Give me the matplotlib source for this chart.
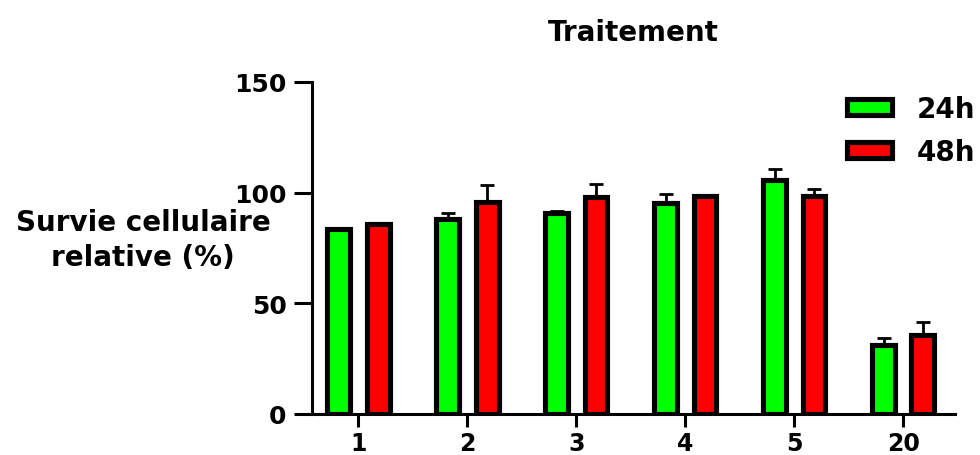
import numpy as np
import matplotlib.pyplot as plt

plt.rcParams['font.family'] = ['DejaVu Sans']
plt.rcParams['font.weight'] = 'bold'

# data
doses = ["1", "2", "3", "4", "5", "20"]
survie_24h = [83.5, 88, 91, 95.5, 105.5, 31]
err_24h = [0.3, 3, 0.6, 4, 5, 3.5]
survie_48h = [86, 96, 98, 98.7, 98.5, 35.5]
err_48h = [0.5, 7.5, 6, 0.3, 3, 6]


def plot_bars(ax):
    x = np.arange(len(doses))
    w = 0.21
    off = 0.18
    ax.bar(x - off, survie_24h, w, color="#00ff00", edgecolor="black",
           linewidth=3.7, label="24h", zorder=2)
    ax.bar(x + off, survie_48h, w, color="#ff0000", edgecolor="black",
           linewidth=3.7, label="48h", zorder=2)
    # only upper error bars
    ax.errorbar(x - off, survie_24h, yerr=[np.zeros(len(x)), err_24h], fmt="none",
                ecolor="black", elinewidth=2, capsize=5, capthick=2, zorder=1)
    ax.errorbar(x + off, survie_48h, yerr=[np.zeros(len(x)), err_48h], fmt="none",
                ecolor="black", elinewidth=2, capsize=5, capthick=2, zorder=1)
    return x


def main():
    fig = plt.figure(figsize=(9.8, 4.56), dpi=100)
    ax = fig.add_axes([0.318, 0.09, 0.656, 0.728])
    x = plot_bars(ax)

    ax.set_xlim(-0.43, 5.47)
    ax.set_ylim(0, 150)
    ax.set_xticks(x)
    ax.set_xticklabels(doses)
    ax.set_yticks([0, 50, 100, 150])
    ax.spines["top"].set_visible(False)
    ax.spines["right"].set_visible(False)
    for s in ["left", "bottom"]:
        ax.spines[s].set_linewidth(2.2)
    ax.tick_params(axis="y", length=13, width=2.2, labelsize=18, pad=5)
    ax.tick_params(axis="x", length=9, width=2.2, labelsize=17, pad=3)
    for lab in ax.get_xticklabels() + ax.get_yticklabels():
        lab.set_fontweight("bold")

    ax.set_title("Traitement", fontsize=20, fontweight="bold", pad=30)
    fig.text(0.146, 0.472, "Survie cellulaire\nrelative (%)", ha="center",
             va="center", fontsize=20, fontweight="bold", linespacing=1.3)

    leg = ax.legend(loc="upper right", bbox_to_anchor=(1.058, 1.012), frameon=False,
                    fontsize=20, handlelength=1.6, handleheight=0.5,
                    labelspacing=0.55, handletextpad=0.9, borderaxespad=0.2)
    for t in leg.get_texts():
        t.set_fontweight("bold")

    fig.savefig("out.png", dpi=100)


if __name__ == '__main__':
    main()
